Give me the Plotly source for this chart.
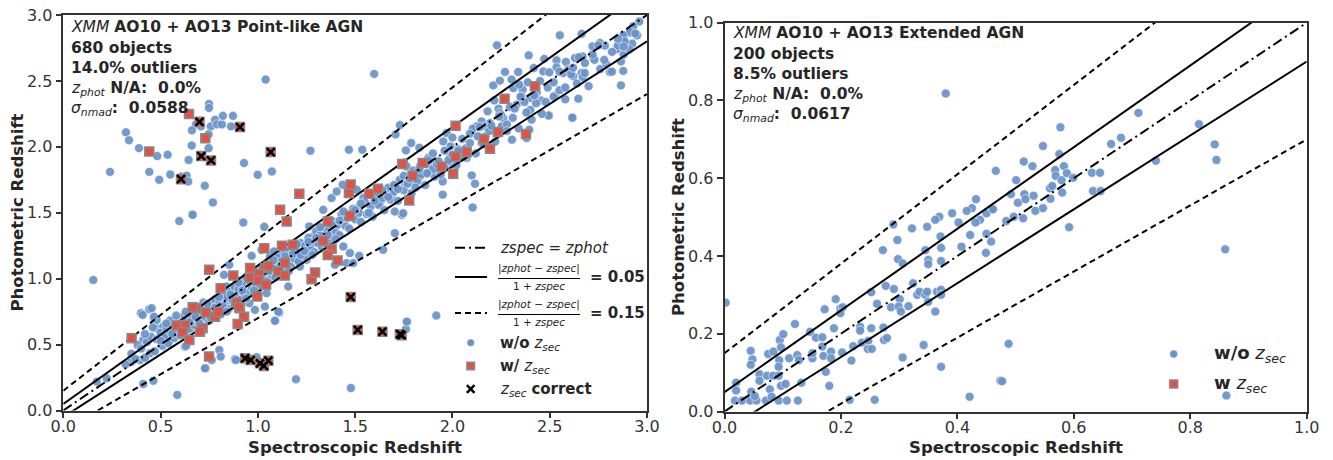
import plotly.graph_objects as go

# the page's default body margin is removed (post_script below), so window pixel == figure pixel
OFF = 0
W, H = 1333, 460

# ---------------- data ----------------
# Left panel: XMM AO10 + AO13 point-like AGN  (spec z, phot z)
left_blue = [
    (1.04, 2.51), (0.749, 2.325), (0.749, 2.295), (0.322, 2.11), (0.338, 2.05), (0.389, 1.99),
    (0.483, 1.93), (0.536, 1.94), (0.682, 2.17), (0.661, 2.125), (0.708, 2.155), (0.758, 2.155),
    (0.78, 2.205), (0.79, 2.17), (0.815, 2.17), (0.82, 2.235), (0.872, 2.235), (0.862, 2.155),
    (0.747, 2.095), (0.66, 2.01), (0.747, 1.99), (1.27, 1.97), (0.644, 1.90), (0.24, 1.81),
    (0.442, 1.81), (0.493, 1.75), (0.55, 1.79), (0.608, 1.775), (0.634, 1.78), (0.642, 1.737),
    (0.929, 1.877), (0.999, 1.788), (1.072, 1.813), (0.727, 1.705), (0.769, 1.578), (0.596, 1.437),
    (0.663, 1.487), (0.925, 1.426), (1.033, 1.393), (0.154, 0.99),
    (1.917, 0.72), (1.768, 0.672), (1.761, 0.617), (1.478, 0.171),
    (0.399, 0.738), (0.442, 0.768), (0.408, 0.725), (0.466, 0.70), (0.48, 0.624), (0.411, 0.535),
    (0.382, 0.497), (0.351, 0.37), (0.394, 0.383), (0.411, 0.201), (0.463, 0.226), (0.172, 0.219),
    (0.223, 0.244), (0.586, 0.118), (1.196, 0.237), (0.732, 0.32), (0.763, 0.383), (0.802, 0.459),
    (0.809, 0.409), (0.882, 0.389), (0.994, 0.404), (1.11, 0.743), (1.088, 0.682), (0.985, 0.763),
    (0.625, 0.484), (0.446, 0.434), (0.548, 0.535), (0.514, 0.573), (0.523, 0.649), (0.548, 0.682),
    (2.552, 2.846), (2.229, 2.77), (2.392, 2.694), (2.472, 2.667), (2.535, 2.656), (2.583, 2.644),
    (2.63, 2.674), (2.669, 2.686), (2.72, 2.762), (2.758, 2.788), (2.784, 2.768), (2.875, 2.838),
    (2.912, 2.864), (2.95, 2.846), (2.924, 2.783), (2.881, 2.80), (2.844, 2.745), (2.809, 2.568),
    (2.878, 2.576), (2.866, 2.466), (2.647, 2.365), (2.618, 2.221), (2.496, 2.236), (2.381, 2.067),
    (2.306, 2.054), (2.527, 2.39), (2.455, 2.352), (2.407, 2.206), (2.395, 2.13), (2.33, 2.32),
    (2.296, 2.302), (2.237, 2.289), (2.215, 2.352), (2.193, 2.18), (2.15, 2.193), (2.124, 2.155),
    (2.104, 2.137), (2.21, 2.466), (2.244, 2.502), (2.27, 2.568), (2.304, 2.51), (2.338, 2.568),
    (2.361, 2.434), (2.387, 2.489), (2.418, 2.598), (2.467, 2.572), (2.498, 2.565), (2.535, 2.603),
    (2.569, 2.56), (2.595, 2.586), (2.621, 2.535), (2.664, 2.56), (2.681, 2.636), (2.724, 2.674),
    (2.313, 2.446), (2.343, 2.471), (2.356, 2.383), (2.398, 2.37), (2.433, 2.408), (2.424, 2.383),
    (2.244, 2.257), (2.261, 2.219), (2.253, 2.155), (2.15, 2.029), (2.099, 1.783), (2.116, 1.72),
    (1.95, 1.637), (2.104, 1.54), (1.741, 1.484), (1.788, 2.029), (1.953, 2.041), (1.99, 2.003),
    (2.03, 1.983), (1.761, 1.973), (1.751, 1.882), (1.876, 1.915), (1.919, 1.889), (1.99, 1.884),
    (2.073, 1.915), (1.893, 1.864), (1.833, 1.851), (1.867, 1.796), (1.91, 1.775), (1.95, 1.737),
    (1.833, 1.775), (1.799, 1.737), (1.755, 1.725), (1.764, 1.851), (1.97, 2.105), (1.99, 1.94),
    (2.181, 2.269), (2.167, 2.155), (2.073, 1.965),
    (2.664, 2.857), (1.598, 2.553), (1.73, 2.165), (1.708, 2.094), (1.468, 1.978), (1.537, 1.978),
    (1.83, 1.993), (2.616, 2.221), (2.494, 2.238), (2.866, 2.648), (2.844, 2.741), (2.948, 2.846),
    (2.96, 2.95), (2.929, 2.914), (2.912, 2.872), (2.878, 2.846), (2.885, 2.80),
    (0.665, 1.484), (1.019, 1.219), (1.062, 1.168), (1.097, 1.143), (1.083, 1.206), (1.122, 1.181),
    (1.165, 1.206), (1.199, 1.168), (1.156, 1.13), (1.216, 1.092), (1.251, 1.143), (1.268, 1.219),
    (1.285, 1.32), (1.302, 1.27), (1.319, 1.345), (1.336, 1.383), (1.264, 1.396), (1.371, 1.371),
    (1.405, 1.408), (1.336, 1.522), (1.379, 1.611), (1.405, 1.661), (1.436, 1.712), (1.508, 1.674),
    (1.542, 1.611), (1.525, 1.56), (1.576, 1.497), (1.627, 1.573), (1.688, 1.636), (1.704, 1.509),
    (1.747, 1.497), (1.439, 1.244), (1.473, 1.194), (1.521, 1.173), (1.456, 1.118), (1.49, 1.118),
    (1.396, 1.105), (1.156, 0.94), (1.105, 0.75), (1.088, 0.68), (0.956, 0.814), (0.857, 0.877),
    (0.831, 0.852), (0.874, 0.915), (0.908, 0.94), (0.934, 0.991), (0.891, 0.991), (0.84, 0.94),
    (0.814, 0.89), (0.788, 0.839), (0.763, 0.801), (0.737, 0.776), (0.702, 0.738), (0.677, 0.687),
    (0.634, 0.636), (0.608, 0.674), (0.548, 0.611), (0.514, 0.636), (0.48, 0.687), (0.466, 0.712),
    (0.454, 0.776), (0.631, 0.49), (0.728, 0.32), (0.887, 0.383), (1.036, 0.788), (1.045, 0.89),
    (1.114, 1.016), (0.826, 1.029), (0.853, 1.105), (0.968, 1.173), (1.062, 1.08), (1.765, 0.674),
    (1.644, 1.219), (1.704, 1.345),
    (0.32, 0.35), (0.35, 0.43), (0.37, 0.39), (0.40, 0.47), (0.42, 0.40), (0.43, 0.52), (0.45, 0.56),
    (0.47, 0.45), (0.48, 0.54), (0.50, 0.59), (0.51, 0.49), (0.52, 0.57), (0.53, 0.63), (0.54, 0.51),
    (0.55, 0.60), (0.56, 0.64), (0.57, 0.55), (0.58, 0.61), (0.59, 0.68), (0.60, 0.57), (0.61, 0.63),
    (0.62, 0.72), (0.63, 0.60), (0.64, 0.69), (0.65, 0.62), (0.66, 0.71), (0.67, 0.65), (0.68, 0.79),
    (0.69, 0.67), (0.70, 0.74), (0.71, 0.69), (0.72, 0.82), (0.73, 0.71), (0.74, 0.77), (0.75, 0.68),
    (0.76, 0.80), (0.77, 0.73), (0.78, 0.84), (0.79, 0.76), (0.80, 0.81), (0.81, 0.73), (0.82, 0.88),
    (0.83, 0.80), (0.84, 0.86), (0.85, 0.77), (0.86, 0.90), (0.87, 0.83), (0.88, 0.94), (0.89, 0.86),
    (0.90, 0.92), (0.91, 0.84), (0.92, 0.97), (0.93, 0.89), (0.94, 1.01), (0.95, 0.90), (0.96, 0.98),
    (0.97, 0.93), (0.98, 1.06), (0.99, 0.95), (1.00, 1.02), (1.01, 0.94), (1.02, 1.09), (1.03, 0.99),
    (1.04, 1.05), (1.05, 0.98), (1.06, 1.13), (1.07, 1.03), (1.08, 1.10), (1.09, 1.01), (1.10, 1.16),
    (1.11, 1.08), (1.12, 1.13), (1.13, 1.05), (1.14, 1.21), (1.15, 1.12), (1.16, 1.17), (1.17, 1.09),
    (1.18, 1.24), (1.19, 1.15), (1.20, 1.21), (1.21, 1.13), (1.22, 1.27), (1.23, 1.19), (1.24, 1.25),
    (1.25, 1.16), (1.26, 1.31), (1.27, 1.24), (1.28, 1.28), (1.29, 1.20), (1.30, 1.36), (1.31, 1.27),
    (1.32, 1.33), (1.33, 1.24), (1.34, 1.39), (1.35, 1.31), (1.36, 1.36), (1.37, 1.29), (1.38, 1.44),
    (1.40, 1.35), (1.41, 1.41), (1.42, 1.33), (1.43, 1.49), (1.45, 1.40), (1.46, 1.46), (1.47, 1.38),
    (1.49, 1.53), (1.50, 1.45), (1.52, 1.50), (1.53, 1.43), (1.55, 1.58), (1.56, 1.49), (1.58, 1.55),
    (1.59, 1.47), (1.61, 1.63), (1.62, 1.56), (1.64, 1.61), (1.65, 1.52), (1.67, 1.69), (1.68, 1.60),
    (1.70, 1.66), (1.72, 1.59), (1.73, 1.75), (1.75, 1.67), (1.77, 1.72), (1.79, 1.65), (1.80, 1.82),
    (1.82, 1.74), (1.84, 1.79), (1.86, 1.71), (1.88, 1.90), (1.90, 1.83), (1.92, 1.87), (1.94, 1.79),
    (1.96, 1.97), (1.98, 1.90), (2.00, 1.94), (2.02, 1.86), (2.05, 2.06), (2.07, 1.99), (2.09, 2.03),
    (2.12, 1.95), (2.14, 2.15), (2.17, 2.08), (2.19, 2.12), (2.22, 2.04), (2.25, 2.24), (2.28, 2.17),
    (2.31, 2.22), (2.34, 2.14), (2.37, 2.34), (2.40, 2.28), (2.43, 2.33), (2.46, 2.25), (2.49, 2.45),
    (2.52, 2.38), (2.55, 2.43), (2.58, 2.36), (2.61, 2.55), (2.64, 2.48), (2.67, 2.53), (2.70, 2.46),
    (2.73, 2.66), (2.76, 2.59), (2.79, 2.63), (2.82, 2.57), (2.85, 2.77), (2.88, 2.70), (2.91, 2.74),
    (2.94, 2.86),
    (0.42, 0.58), (0.46, 0.63), (0.50, 0.53), (0.53, 0.66), (0.56, 0.58), (0.58, 0.72), (0.60, 0.66),
    (0.63, 0.75), (0.65, 0.67), (0.68, 0.71), (0.70, 0.66), (0.72, 0.76), (0.74, 0.81), (0.76, 0.70),
    (0.78, 0.78), (0.80, 0.86), (0.82, 0.79), (0.84, 0.75), (0.86, 0.88), (0.88, 0.80), (0.90, 0.97),
    (0.92, 0.91), (0.94, 0.85), (0.96, 1.03), (0.98, 0.91), (1.00, 0.98), (1.02, 1.05), (1.04, 0.95),
    (1.06, 1.06), (1.08, 1.14), (1.10, 1.05), (1.12, 1.10), (1.14, 1.17), (1.16, 1.06), (1.18, 1.19),
    (1.20, 1.26), (1.22, 1.18), (1.24, 1.21), (1.26, 1.28), (1.28, 1.18), (1.30, 1.31), (1.32, 1.39),
    (1.34, 1.27), (1.36, 1.33), (1.38, 1.41), (1.40, 1.30), (1.42, 1.44), (1.44, 1.51),
    (1.50, 1.52), (1.53, 1.57), (1.57, 1.50), (1.60, 1.59), (1.64, 1.67), (1.67, 1.62), (1.70, 1.71),
    (1.72, 1.68), (1.75, 1.78), (1.78, 1.76), (1.81, 1.69), (1.83, 1.83), (1.87, 1.80), (1.90, 1.95),
    (1.93, 1.89), (1.96, 1.84), (2.00, 2.07), (2.03, 1.97), (2.06, 1.92), (2.09, 2.10), (2.13, 2.08),
    (2.16, 2.02), (2.20, 2.16), (2.24, 2.23), (2.28, 2.12), (2.32, 2.29), (2.35, 2.38), (2.38, 2.26),
    (2.42, 2.39), (2.45, 2.50), (2.48, 2.34), (2.52, 2.49), (2.55, 2.57), (2.58, 2.45), (2.62, 2.60),
    (2.65, 2.68), (2.68, 2.56), (2.72, 2.70), (2.75, 2.77), (2.78, 2.66), (2.82, 2.72), (2.85, 2.82),
    (2.88, 2.76),
]

left_red = [
    (0.646, 2.25), (0.73, 2.065), (0.442, 1.965),
    (1.213, 1.644), (1.114, 1.522), (1.148, 1.434), (1.033, 1.231), (1.124, 1.249), (1.179, 1.257),
    (0.75, 1.067), (0.874, 1.024), (0.96, 1.08), (0.96, 1.009), (1.037, 1.08), (1.054, 1.097),
    (1.105, 1.054), (1.139, 1.118), (1.139, 1.024), (1.007, 1.036), (1.002, 0.986), (1.042, 0.953),
    (0.809, 0.928), (0.997, 0.864), (0.682, 0.776), (0.733, 0.743), (0.78, 0.712), (0.797, 0.75),
    (0.891, 0.819), (0.908, 0.776), (0.929, 0.712), (0.896, 0.657), (0.716, 0.624), (0.625, 0.649),
    (0.583, 0.644), (0.613, 0.594), (0.648, 0.535), (0.749, 0.409), (1.276, 0.996), (1.294, 1.046),
    (1.336, 1.287), (1.379, 1.226), (1.359, 1.18), (1.41, 1.137), (1.359, 1.434), (1.473, 1.477),
    (1.468, 1.649), (1.477, 1.715), (1.572, 1.644), (1.617, 1.682), (1.778, 1.593),
    (0.351, 0.548), (0.665, 0.784), (0.904, 0.784), (0.702, 0.598),
    (2.424, 2.459), (2.268, 2.365), (2.016, 2.16), (2.162, 2.059), (2.234, 2.112), (2.378, 2.097),
    (2.193, 1.985), (2.073, 1.96), (2.016, 1.927), (1.944, 1.851), (2.004, 1.796), (1.847, 1.877),
    (1.795, 1.78), (1.742, 1.869),
]

# objects whose secondary redshift is correct (also drawn as red squares)
left_cross = [
    (0.70, 2.19), (0.908, 2.15), (1.066, 1.96), (0.709, 1.93), (0.759, 1.897), (0.605, 1.755),
    (1.477, 0.86), (1.513, 0.611), (1.64, 0.598), (1.73, 0.579), (1.739, 0.571), (0.934, 0.396),
    (0.963, 0.383), (1.011, 0.358), (1.031, 0.338), (1.054, 0.378),
]

# Right panel: XMM AO10 + AO13 extended AGN
right_blue = [
    (0.38, 0.818), (0.466, 0.619), (0.432, 0.546), (0.425, 0.523), (0.416, 0.516), (0.391, 0.51),
    (0.369, 0.501), (0.362, 0.493), (0.439, 0.493), (0.45, 0.51), (0.461, 0.521), (0.402, 0.486),
    (0.431, 0.486), (0.348, 0.475), (0.322, 0.471), (0.29, 0.481),
    (0.002, 0.28), (0.02, 0.074), (0.02, 0.054), (0.018, 0.028), (0.03, 0.028), (0.044, 0.028),
    (0.055, 0.028), (0.071, 0.028), (0.093, 0.028), (0.107, 0.028), (0.126, 0.028), (0.045, 0.156),
    (0.048, 0.134), (0.045, 0.12), (0.046, 0.051), (0.052, 0.04), (0.06, 0.096), (0.06, 0.079),
    (0.073, 0.092), (0.075, 0.148), (0.084, 0.154), (0.084, 0.092), (0.078, 0.057), (0.081, 0.038),
    (0.095, 0.184), (0.101, 0.199), (0.097, 0.165), (0.094, 0.132), (0.093, 0.115), (0.093, 0.092),
    (0.097, 0.066), (0.105, 0.071), (0.111, 0.137), (0.121, 0.225), (0.125, 0.145), (0.128, 0.132),
    (0.132, 0.074), (0.147, 0.205), (0.151, 0.137), (0.151, 0.15), (0.157, 0.19), (0.168, 0.191),
    (0.168, 0.167), (0.17, 0.143), (0.172, 0.263), (0.174, 0.102), (0.18, 0.066), (0.183, 0.154),
    (0.183, 0.137), (0.188, 0.214), (0.191, 0.289), (0.199, 0.265), (0.203, 0.268), (0.202, 0.152),
    (0.199, 0.253), (0.218, 0.131), (0.215, 0.03), (0.221, 0.168), (0.233, 0.218), (0.233, 0.208),
    (0.236, 0.177), (0.247, 0.182), (0.246, 0.161), (0.253, 0.161), (0.252, 0.214), (0.252, 0.307),
    (0.258, 0.03), (0.262, 0.277), (0.272, 0.415), (0.273, 0.216), (0.274, 0.184), (0.279, 0.189),
    (0.277, 0.323), (0.286, 0.268), (0.291, 0.315), (0.297, 0.441), (0.298, 0.392), (0.301, 0.289),
    (0.299, 0.27), (0.303, 0.257), (0.306, 0.381), (0.306, 0.139), (0.316, 0.271), (0.324, 0.33),
    (0.331, 0.30), (0.335, 0.308), (0.342, 0.171), (0.345, 0.415), (0.345, 0.30), (0.348, 0.308),
    (0.35, 0.282), (0.35, 0.39), (0.35, 0.379), (0.362, 0.257), (0.365, 0.308), (0.371, 0.45),
    (0.372, 0.421), (0.372, 0.387), (0.372, 0.313), (0.372, 0.30), (0.372, 0.115), (0.407, 0.424),
    (0.421, 0.038), (0.422, 0.454), (0.449, 0.408), (0.45, 0.457), (0.458, 0.437), (0.474, 0.079),
    (0.711, 0.768), (0.815, 0.739), (0.842, 0.687), (0.845, 0.647), (0.741, 0.645), (0.577, 0.731),
    (0.547, 0.683), (0.514, 0.643), (0.529, 0.631), (0.501, 0.595), (0.492, 0.559), (0.504, 0.537),
    (0.515, 0.559), (0.517, 0.546), (0.531, 0.555), (0.534, 0.516), (0.547, 0.523), (0.559, 0.574),
    (0.563, 0.58), (0.56, 0.547), (0.568, 0.621), (0.569, 0.606), (0.575, 0.662), (0.579, 0.595),
    (0.583, 0.631), (0.588, 0.613), (0.58, 0.563), (0.599, 0.601), (0.631, 0.614), (0.645, 0.614),
    (0.633, 0.567), (0.646, 0.567), (0.664, 0.688), (0.681, 0.704), (0.592, 0.474), (0.484, 0.49),
    (0.497, 0.501), (0.513, 0.497), (0.461, 0.52),
    (0.86, 0.417), (0.488, 0.174), (0.477, 0.078), (0.862, 0.041),
]

left_ticks = [0.0, 0.5, 1.0, 1.5, 2.0, 2.5, 3.0]
right_ticks = [0.0, 0.2, 0.4, 0.6, 0.8, 1.0]
left_stats = ["680 objects", "14.0% outliers", "0.0%", "0.0588"]
right_stats = ["200 objects", "8.5% outliers", "0.0%", "0.0617"]
x_title = "Spectroscopic Redshift"
y_title = "Photometric Redshift"
# reference relations: (slope, intercept) of zphot = slope*zspec + intercept
ref_lines = {"one2one": [(1.0, 0.0)], "f05": [(1.05, 0.05), (0.95, -0.05)], "f15": [(1.15, 0.15), (0.85, -0.15)]}

# ---------------- styling ----------------
BLUE = "#6a93c9"
RED = "#df5247"
TXT = "#262626"
FONT = "DejaVu Sans"
DASHDOT = "10px,4px,2px,4px"
DASHED = "6px,4px"
line_style = {"one2one": DASHDOT, "f05": "solid", "f15": DASHED}


def xs(pts):
    return [p[0] for p in pts]


def ys(pts):
    return [p[1] for p in pts]


def P(px, py):
    """window pixel -> paper fraction"""
    return (px - OFF) / W, 1 - (py - OFF) / H


def dom_x(p0, p1):
    return [P(p0, 0)[0], P(p1, 0)[0]]


def dom_y(pbot, ptop):
    return [P(0, pbot)[1], P(0, ptop)[1]]


fig = go.Figure()


def add_ref_lines(xmax, xa, ya):
    xv = [0.0, xmax]
    for key, pairs in ref_lines.items():
        for m, b in pairs:
            fig.add_trace(go.Scatter(
                x=xv, y=[m * v + b for v in xv], mode="lines",
                line=dict(color="black", width=2, dash=line_style[key]),
                xaxis=xa, yaxis=ya, showlegend=False, hoverinfo="skip"))


# left panel
fig.add_trace(go.Scatter(x=xs(left_blue), y=ys(left_blue), mode="markers", xaxis="x", yaxis="y",
                         marker=dict(color=BLUE, size=9, opacity=0.92, line=dict(color="white", width=0.6)),
                         showlegend=False, name="w/o z_sec"))
add_ref_lines(3.0, "x", "y")
allred = left_red + left_cross
fig.add_trace(go.Scatter(x=xs(allred), y=ys(allred), mode="markers", xaxis="x", yaxis="y",
                         marker=dict(color=RED, symbol="square", size=9, line=dict(color="#8a8a8a", width=1.5)),
                         showlegend=False, name="w/ z_sec"))
fig.add_trace(go.Scatter(x=xs(left_cross), y=ys(left_cross), mode="markers", xaxis="x", yaxis="y",
                         marker=dict(color="black", symbol="x-thin", size=8, line=dict(color="black", width=2.5)),
                         showlegend=False, name="z_sec correct"))

# right panel
fig.add_trace(go.Scatter(x=xs(right_blue), y=ys(right_blue), mode="markers", xaxis="x2", yaxis="y2",
                         marker=dict(color=BLUE, size=9, opacity=0.92, line=dict(color="white", width=0.6)),
                         showlegend=False, name="w/o z_sec"))
add_ref_lines(1.0, "x2", "y2")


def axis(rng, ticks, domain, anchor, label_standoff=0):
    return dict(
        range=rng, domain=domain, anchor=anchor, tickvals=ticks, ticktext=[f"{t:.1f}" for t in ticks],
        showgrid=False, zeroline=False, showline=True, linecolor="#333", linewidth=1.5, mirror=True,
        ticks="outside", ticklen=6, tickwidth=1.5, tickcolor="#333", ticklabeloverflow="allow",
        ticklabelstandoff=label_standoff,
        tickfont=dict(family=FONT, size=16, color="#333"), automargin=False,
    )


fig.update_layout(
    width=W, height=H, margin=dict(l=0, r=0, t=0, b=0),
    paper_bgcolor="white", plot_bgcolor="white", showlegend=False,
    xaxis=axis([0, 3], left_ticks, dom_x(63.3, 647), "y", -5),
    yaxis=axis([0, 3], left_ticks, dom_y(410.5, 15), "x"),
    xaxis2=axis([0, 1], right_ticks, dom_x(724.5, 1306.7), "y2", -5),
    yaxis2=axis([0, 1], right_ticks, dom_y(411.5, 22.7), "x2"),
)

ann = []


def text(px, py, s, size=15.5, anchor="left", angle=0):
    x, y = P(px, py)
    ann.append(dict(x=x, y=y, xref="paper", yref="paper", text=s, showarrow=False, xanchor=anchor,
                    yanchor="middle", textangle=angle, font=dict(family=FONT, size=size, color=TXT)))


# axis titles
text(355, 447, f"<b>{x_title}</b>", size=16.5, anchor="center")
text(17, 212.5, f"<b>{y_title}</b>", size=16.5, anchor="center", angle=-90)
text(1016, 447.5, f"<b>{x_title}</b>", size=16.5, anchor="center")
text(678, 217, f"<b>{y_title}</b>", size=16.5, anchor="center", angle=-90)


def stats_block(px, py0, kind, stats):
    text(px, py0, f"<i>XMM</i> <b>AO10 + AO13 {kind} AGN</b>")
    text(px, py0 + 20.5, f"<b>{stats[0]}</b>")
    text(px, py0 + 41, f"<b>{stats[1]}</b>")
    text(px, py0 + 62, f"<i>z<sub>phot</sub></i><b> N/A:&nbsp; {stats[2]}</b>")
    text(px, py0 + 82, f"<i>σ<sub>nmad</sub></i><b>:&nbsp; {stats[3]}</b>")


stats_block(69, 27, "Point-like", left_stats)
stats_block(731, 33, "Extended", right_stats)

shapes = []


def hline(px0, px1, py, dash="solid", width=2):
    x0, y = P(px0, py)
    x1, _ = P(px1, py)
    shapes.append(dict(type="line", xref="paper", yref="paper", x0=x0, x1=x1, y0=y, y1=y,
                       line=dict(color="black", width=width, dash=dash)))


def marker_shape(px, py, kind, r=3.8):
    x, y = P(px, py)
    base = dict(xref="paper", yref="paper", xsizemode="pixel", ysizemode="pixel", xanchor=x, yanchor=y)
    if kind == "circle":
        shapes.append(dict(type="circle", x0=-r, x1=r, y0=-r, y1=r, fillcolor=BLUE,
                           line=dict(color="white", width=0.5), **base))
    elif kind == "square":
        shapes.append(dict(type="rect", x0=-r, x1=r, y0=-r, y1=r, fillcolor=RED,
                           line=dict(color="#8a8a8a", width=1.5), **base))
    else:
        shapes.append(dict(type="line", x0=-r, x1=r, y0=-r, y1=r, line=dict(color="black", width=2.5), **base))
        shapes.append(dict(type="line", x0=-r, x1=r, y0=r, y1=-r, line=dict(color="black", width=2.5), **base))


# left manual legend
hline(455, 487, 247.7, DASHDOT)
text(498, 247.7, "<i>zspec</i> = <i>zphot</i>", size=15)
for py, val, dash in [(277, "0.05", "solid"), (313, "0.15", DASHED)]:
    hline(455, 487, py, dash)
    text(539, py - 8.5, "<i>|zphot − zspec|</i>", size=10.5, anchor="center")
    hline(498, 580, py + 1.5, "solid", 1)
    text(539, py + 8.5, "1 + <i>zspec</i>", size=10.5, anchor="center")
    text(588, py, f"<b>= {val}</b>", size=15)
marker_shape(470.7, 342.7, "circle")
text(498, 343, "<b>w/o</b> <i>z<sub>sec</sub></i>", size=15)
marker_shape(470.7, 366, "square")
text(498, 366, "<b>w/</b> <i>z<sub>sec</sub></i>", size=15)
marker_shape(470.7, 389, "cross")
text(498, 389, "<i>z<sub>sec</sub></i> <b>correct</b>", size=15)

# right manual legend
marker_shape(1173.7, 354, "circle", r=4)
text(1211.7, 354, "<b>w/o</b> <i>z<sub>sec</sub></i>", size=18)
marker_shape(1173.7, 384, "square", r=4)
text(1211.7, 384, "<b>w</b> <i>z<sub>sec</sub></i>", size=18)

fig.update_layout(annotations=ann, shapes=shapes)
fig.write_html("out.html", config={"displayModeBar": False},
               post_script="document.body.style.margin='0px';")
